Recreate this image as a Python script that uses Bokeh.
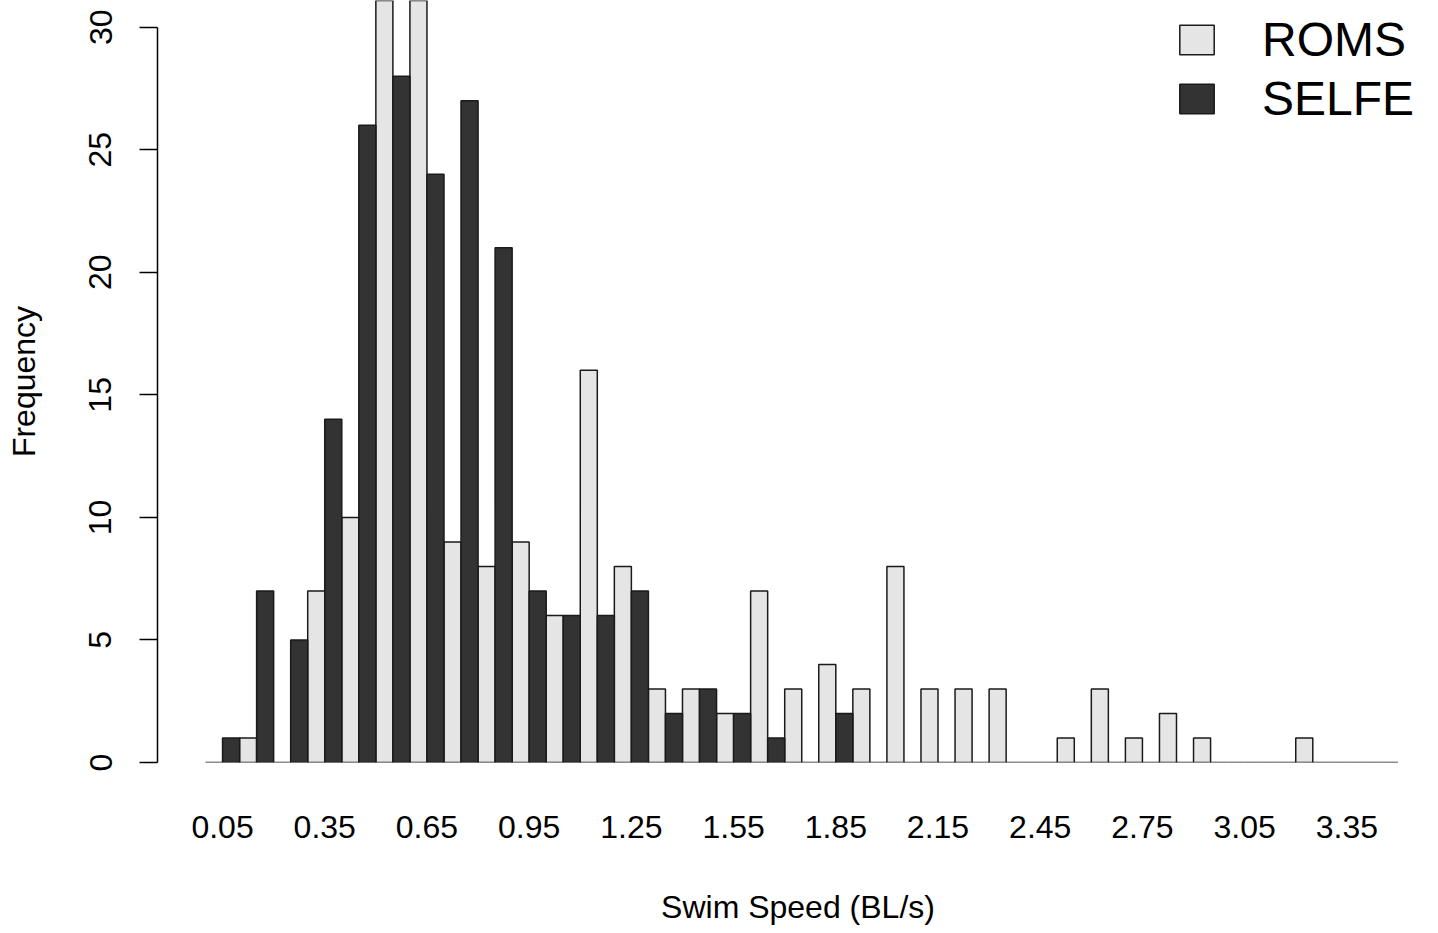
import numpy as np
from bokeh.plotting import figure
from bokeh.models import FixedTicker, Legend, LegendItem, Range1d
from bokeh.embed import file_html
from bokeh.resources import INLINE

# ---- data ----
speeds = ["0.05", "0.15", "0.25", "0.35", "0.45", "0.55", "0.65", "0.75", "0.85", "0.95",
          "1.05", "1.15", "1.25", "1.35", "1.45", "1.55", "1.65", "1.75", "1.85", "1.95",
          "2.05", "2.15", "2.25", "2.35", "2.45", "2.55", "2.65", "2.75", "2.85", "2.95",
          "3.05", "3.15", "3.25", "3.35", "3.45"]
roms = [0, 1, 0, 7, 10, 33, 36, 9, 8, 9, 6, 16, 8, 3, 3, 2, 7, 3, 4, 3,
        8, 3, 3, 3, 0, 1, 3, 1, 2, 1, 0, 0, 1, 0, 0]
selfe = [1, 7, 5, 14, 26, 28, 24, 27, 21, 7, 6, 6, 7, 2, 3, 2, 1, 0, 2, 0,
         0, 0, 0, 0, 0, 0, 0, 0, 0, 0, 0, 0, 0, 0, 0]
tick_labels = ["0.05", "0.35", "0.65", "0.95", "1.25", "1.55", "1.85", "2.15",
               "2.45", "2.75", "3.05", "3.35"]
y_ticks = [0, 5, 10, 15, 20, 25, 30]

idx = np.arange(len(speeds))
FONT = "Liberation Sans"

p = figure(width=1438, height=933, output_backend="svg", toolbar_location=None,
           x_range=Range1d(-1.909, 35.69), y_range=Range1d(0, 31.09),
           min_border_left=157, min_border_right=0, min_border_top=0,
           min_border_bottom=171)
p.outline_line_color = None
p.grid.visible = False
p.background_fill_color = "white"

r1 = p.vbar(x=idx - 0.25, top=roms, width=0.5, bottom=0,
            fill_color="#E5E5E5", line_color="#1a1a1a", line_width=1.5)
r2 = p.vbar(x=idx + 0.25, top=selfe, width=0.5, bottom=0,
            fill_color="#333333", line_color="#1a1a1a", line_width=1.5)

# x axis: labels only
xa = p.xaxis[0]
xa.ticker = FixedTicker(ticks=[speeds.index(t) for t in tick_labels])
xa.major_label_overrides = {speeds.index(t): t for t in tick_labels}
xa.axis_line_color = None
xa.major_tick_line_color = None
xa.minor_tick_line_color = None
xa.major_label_standoff = 47
xa.major_label_text_font = FONT
xa.major_label_text_font_size = "32px"
xa.major_label_text_color = "black"
xa.axis_label = "Swim Speed (BL/s)"
xa.axis_label_text_font = FONT
xa.axis_label_text_font_size = "32px"
xa.axis_label_text_font_style = "normal"
xa.axis_label_text_color = "black"
xa.axis_label_standoff = 48

# y axis
ya = p.yaxis[0]
ya.ticker = FixedTicker(ticks=y_ticks)
ya.bounds = (0, 30)
ya.axis_line_color = "black"
ya.axis_line_width = 1.5
ya.major_tick_line_color = "black"
ya.major_tick_line_width = 1.5
ya.major_tick_out = 18
ya.major_tick_in = 0
ya.minor_tick_line_color = None
ya.major_label_orientation = "vertical"
ya.major_label_standoff = 28
ya.major_label_text_font = FONT
ya.major_label_text_font_size = "32px"
ya.major_label_text_color = "black"
ya.axis_label = "Frequency"
ya.axis_label_text_font = FONT
ya.axis_label_text_font_size = "32px"
ya.axis_label_text_font_style = "normal"
ya.axis_label_text_color = "black"
ya.axis_label_standoff = 45

legend = Legend(items=[LegendItem(label="ROMS", renderers=[r1]),
                       LegendItem(label="SELFE", renderers=[r2])],
                location=(1018, 636))
legend.glyph_width = 43
legend.glyph_height = 37
legend.label_standoff = 44
legend.label_text_font = FONT
legend.label_text_font_size = "48px"
legend.label_text_color = "black"
legend.spacing = 4
legend.padding = 0
legend.margin = 0
legend.border_line_color = None
legend.background_fill_alpha = 0
p.add_layout(legend)

open("out.html", "w").write(file_html(p, INLINE))
